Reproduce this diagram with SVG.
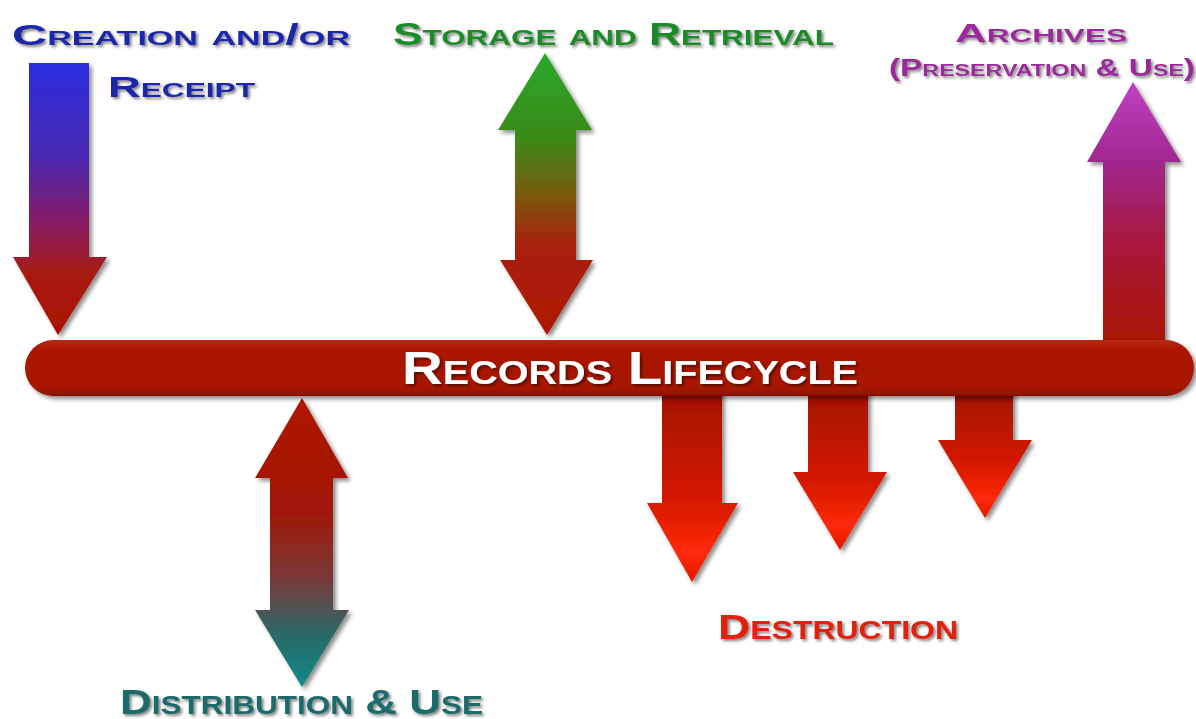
<svg xmlns="http://www.w3.org/2000/svg" width="1196" height="719" viewBox="0 0 1196 719">
<defs>
<filter id="sh" x="-20%" y="-20%" width="150%" height="150%">
<feDropShadow dx="3" dy="3" stdDeviation="2" flood-color="#000" flood-opacity="0.45"/>
</filter>
<filter id="tsh" x="-10%" y="-30%" width="120%" height="170%">
<feDropShadow dx="2" dy="2" stdDeviation="1.5" flood-color="#000" flood-opacity="0.5"/>
</filter>
<linearGradient id="gCreate" x1="0" y1="0" x2="0" y2="1">
<stop offset="0" stop-color="#2a2ee0"/>
<stop offset="0.35" stop-color="#4a28b0"/>
<stop offset="0.6" stop-color="#8a1a60"/>
<stop offset="0.78" stop-color="#a81a10"/>
<stop offset="1" stop-color="#a81000"/>
</linearGradient>
<linearGradient id="gStore" x1="0" y1="0" x2="0" y2="1">
<stop offset="0" stop-color="#2aa82a"/>
<stop offset="0.3" stop-color="#3a8a18"/>
<stop offset="0.5" stop-color="#7a5a10"/>
<stop offset="0.68" stop-color="#a82010"/>
<stop offset="1" stop-color="#b01800"/>
</linearGradient>
<linearGradient id="gArch" x1="0" y1="0" x2="0" y2="1">
<stop offset="0" stop-color="#c040c0"/>
<stop offset="0.3" stop-color="#a02890"/>
<stop offset="0.6" stop-color="#a81840"/>
<stop offset="1" stop-color="#a81800"/>
</linearGradient>
<linearGradient id="gDist" x1="0" y1="0" x2="0" y2="1">
<stop offset="0" stop-color="#b01400"/>
<stop offset="0.4" stop-color="#a01808"/>
<stop offset="0.62" stop-color="#7a3838"/>
<stop offset="0.82" stop-color="#2a6a68"/>
<stop offset="1" stop-color="#108a88"/>
</linearGradient>
<linearGradient id="gDest" x1="0" y1="0" x2="0" y2="1">
<stop offset="0" stop-color="#a01000"/>
<stop offset="0.6" stop-color="#d81a00"/>
<stop offset="0.85" stop-color="#ff2a08"/>
<stop offset="1" stop-color="#e01800"/>
</linearGradient>
<linearGradient id="gBar" x1="0" y1="0" x2="0" y2="1">
<stop offset="0" stop-color="#b82a1a"/>
<stop offset="0.15" stop-color="#aa1800"/>
<stop offset="0.85" stop-color="#a81600"/>
<stop offset="1" stop-color="#8a1000"/>
</linearGradient>
<style>
.lbl { font-family: "Liberation Sans", "DejaVu Sans", sans-serif; font-weight: bold; font-variant: small-caps; filter: url(#tsh); }
.arrow { filter: url(#sh); }
</style>
</defs>

<g id="connectors">
<g id="arrow-creation" class="arrow">
<path d="M29,63 L89,63 L89,257 L107,257 L58,335 L13,257 L29,257 Z" fill="url(#gCreate)"/>
</g>
<g id="arrow-storage" class="arrow">
<path d="M545,53 L592,130 L576,130 L576,260 L593,260 L547,335 L500,260 L515,260 L515,130 L498,130 Z" fill="url(#gStore)"/>
</g>
<g id="arrow-archives" class="arrow">
<path d="M1133,82 L1181,162 L1165,162 L1165,345 L1103,345 L1103,162 L1087,162 Z" fill="url(#gArch)"/>
</g>
<g id="arrow-distribution" class="arrow">
<path d="M302,398 L348,478 L333,478 L333,610 L349,610 L302,687 L255,610 L270,610 L270,478 L255,478 Z" fill="url(#gDist)"/>
</g>
<g id="arrow-destruction-1" class="arrow">
<path d="M662,390 L722,390 L722,503 L738,503 L692,582 L647,503 L662,503 Z" fill="url(#gDest)"/>
</g>
<g id="arrow-destruction-2" class="arrow">
<path d="M808,390 L868,390 L868,472 L887,472 L840,550 L793,472 L808,472 Z" fill="url(#gDest)"/>
</g>
<g id="arrow-destruction-3" class="arrow">
<path d="M955,390 L1013,390 L1013,440 L1032,440 L985,518 L938,440 L955,440 Z" fill="url(#gDest)"/>
</g>
</g>

<g id="node-lifecycle">
<rect x="25" y="340" width="1169" height="56" rx="28" ry="28" fill="url(#gBar)" filter="url(#sh)"/>
<text class="lbl" x="402" y="384" font-size="47" fill="#ffffff" textLength="456" lengthAdjust="spacingAndGlyphs">Records Lifecycle</text>
</g>

<g id="node-creation">
<text class="lbl" x="12" y="45" font-size="30" fill="#1e28a8" textLength="338" lengthAdjust="spacingAndGlyphs">Creation and/or</text>
<text class="lbl" x="108" y="97" font-size="30" fill="#1e28a8" textLength="147" lengthAdjust="spacingAndGlyphs">Receipt</text>
</g>

<g id="node-storage">
<text class="lbl" x="393" y="45" font-size="31" fill="#1a8a28" textLength="441" lengthAdjust="spacingAndGlyphs">Storage and Retrieval</text>
</g>

<g id="node-archives">
<text class="lbl" x="955" y="42" font-size="25" fill="#9a2a9a" textLength="172" lengthAdjust="spacingAndGlyphs">Archives</text>
<text class="lbl" x="889" y="76" font-size="23" fill="#9a2a9a" textLength="306" lengthAdjust="spacingAndGlyphs">(Preservation &amp; Use)</text>
</g>

<g id="node-distribution">
<text class="lbl" x="120" y="714" font-size="35" fill="#1a6a6a" textLength="363" lengthAdjust="spacingAndGlyphs">Distribution &amp; Use</text>
</g>

<g id="node-destruction">
<text class="lbl" x="718" y="639" font-size="35" fill="#e02010" textLength="240" lengthAdjust="spacingAndGlyphs">Destruction</text>
</g>
</svg>
